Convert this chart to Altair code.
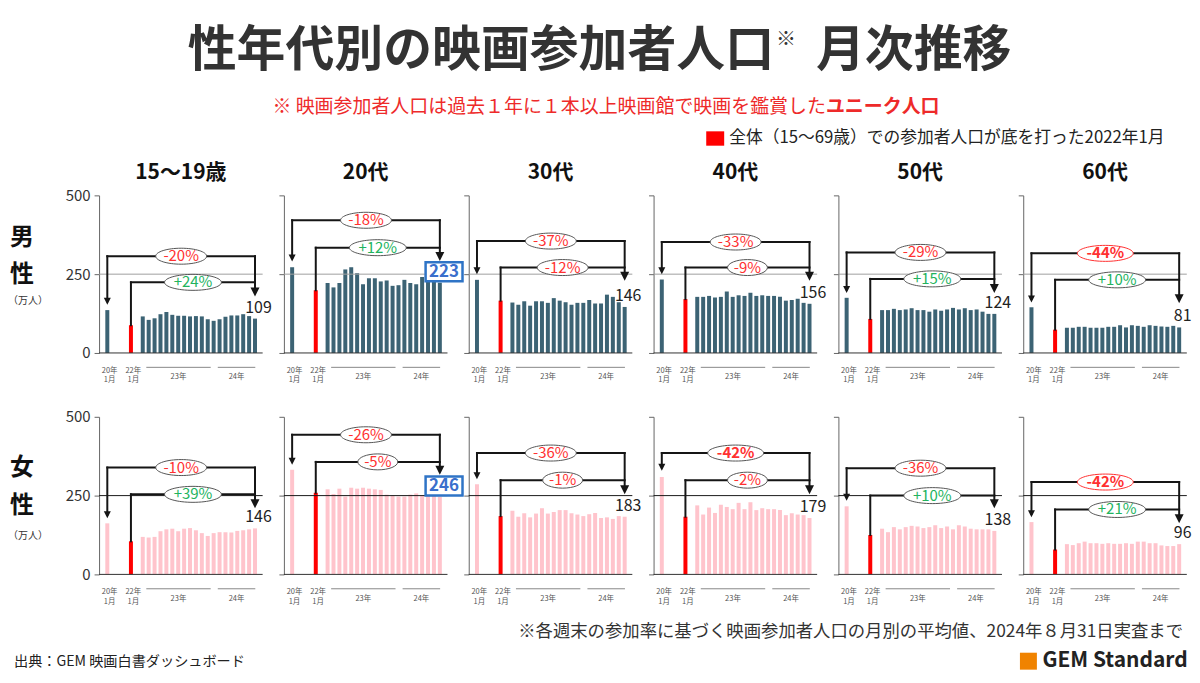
import altair as alt
import pandas as pd

FONT = "Noto Sans CJK JP"

# ---------------- text ----------------
title_main = "性年代別の映画参加者人口"
title_mark = "※"
title_tail = "月次推移"
subtitle_a = "※ 映画参加者人口は過去１年に１本以上映画館で映画を鑑賞した"
subtitle_b = "ユニーク人口"
legend_text = "全体（15～69歳）での参加者人口が底を打った2022年1月"
note_text = "※各週末の参加率に基づく映画参加者人口の月別の平均値、2024年８月31日実査まで"
source_text = "出典：GEM 映画白書ダッシュボード"
logo_text = "GEM Standard"

ages = ["15～19歳", "20代", "30代", "40代", "50代", "60代"]
gender_chars = [["男", "性"], ["女", "性"]]
unit_label = "（万人）"

# ---------------- x slots ----------------
# 20年1月 = slot 0, 22年1月 = slot 4, 2023/01 .. 2024/08 = slots 6 .. 25
slot_2001 = 0
slot_2201 = 4
slots_recent = list(range(6, 26))
slot_tick_labels = [("20年", "1月", 0), ("22年", "1月", 4)]
year_spans = [("23年", 6.6, 17.5), ("24年", 18.7, 25.05)]

# ---------------- values (万人) ----------------
male_2001 = [136, 272, 232, 233, 175, 145]
male_2201 = [88, 199, 166, 171, 108, 74]
male_series = [
    [116, 105, 110, 123, 130, 121, 118, 118, 116, 117, 116, 107, 102, 107, 115, 119, 119, 123, 117, 109],
    [222, 208, 222, 265, 272, 253, 218, 237, 237, 227, 230, 213, 215, 232, 222, 218, 241, 242, 227, 223],
    [160, 153, 164, 150, 164, 164, 159, 174, 166, 161, 153, 159, 159, 168, 157, 157, 185, 178, 161, 146],
    [178, 178, 181, 176, 178, 195, 178, 183, 181, 191, 181, 183, 181, 181, 178, 166, 168, 172, 159, 156],
    [136, 136, 140, 136, 138, 142, 136, 136, 131, 138, 134, 138, 143, 138, 142, 136, 138, 131, 124, 124],
    [80, 80, 83, 83, 80, 80, 80, 83, 83, 88, 81, 88, 86, 83, 88, 86, 84, 83, 86, 81],
]
female_2001 = [162, 332, 286, 309, 216, 166]
female_2201 = [105, 259, 185, 183, 125, 79]
female_series = [
    [119, 117, 119, 137, 143, 145, 137, 145, 147, 140, 131, 122, 131, 134, 134, 133, 138, 140, 143, 146],
    [270, 255, 272, 247, 275, 272, 275, 272, 270, 268, 253, 250, 247, 247, 253, 257, 250, 262, 250, 246],
    [202, 183, 194, 181, 193, 210, 193, 198, 204, 204, 194, 190, 185, 191, 195, 179, 181, 176, 185, 183],
    [219, 190, 212, 195, 221, 214, 207, 227, 207, 229, 204, 210, 207, 207, 204, 188, 194, 190, 188, 179],
    [145, 134, 150, 143, 150, 154, 152, 147, 150, 156, 147, 152, 143, 156, 152, 145, 143, 143, 143, 138],
    [96, 93, 99, 104, 99, 99, 97, 99, 97, 97, 99, 97, 104, 104, 99, 99, 92, 90, 90, 96],
]
male_pct_2001 = ["-20%", "-18%", "-37%", "-33%", "-29%", "-44%"]
male_pct_2201 = ["+24%", "+12%", "-12%", "-9%", "+15%", "+10%"]
female_pct_2001 = ["-10%", "-26%", "-36%", "-42%", "-36%", "-42%"]
female_pct_2201 = ["+39%", "-5%", "-1%", "-2%", "+10%", "+21%"]
male_bold = [False, False, False, False, False, True]
female_bold = [False, False, False, True, False, True]
male_red_ring = [False, False, False, False, False, True]
female_red_ring = [False, False, False, False, False, True]
highlight_age = 1  # 20代: latest value boxed

# bracket levels and arrow tips, read in 万人 units
male_upper = [307, 421, 355, 352, 319, 316]
male_lower = [224, 334, 271, 271, 235, 232]
male_tip_right = [179, 292, 229, 229, 190, 158]
male_tip_left = [153, 290, 250, 250, 190, 160]
female_upper = [339, 443, 385, 385, 337, 293]
female_lower = [254, 357, 299, 299, 250, 206]
female_tip_right = [210, 316, 254, 254, 210, 162]
female_tip_left = [178, 348, 302, 329, 234, 181]

# ---------------- style ----------------
W, H = 164, 158
XDOM = [-0.55, 25.45]
U_PER_PX = 500 / H
SLOT_PER_PX = (XDOM[1] - XDOM[0]) / W
NAVY = "#3c6374"
PINK = "#ffc4cc"
RED = "#ff0000"
NEG = "#ff3030"
POS = "#22b35e"
BLUE = "#2f74c6"
INK = "#151515"
TRI = "M-1,-1L1,-1L0,1Z"
HEAD_R, HEAD_L = 9, 7
ELL_H = 16

xs = alt.Scale(domain=XDOM, nice=False, zero=False)
ys = alt.Scale(domain=[0, 500], nice=False)


def ellipse_path(ratio):
    return f"M-1,0A1,{ratio:.3f} 0 1,0 1,0A1,{ratio:.3f} 0 1,0 -1,0Z"


def rect_path(ratio):
    return f"M-1,-{ratio:.3f}L1,-{ratio:.3f}L1,{ratio:.3f}L-1,{ratio:.3f}Z"


def ell_width(label, bold):
    if bold:
        return 56
    if len(label) == 3:
        return 40
    return 57 if label.startswith("+") else 51


def vtext(t, x, y, size, weight="normal", color="#222", align="center"):
    return alt.Chart(pd.DataFrame({"t": [t]})).mark_text(
        font=FONT, fontSize=size, fontWeight=weight, color=color, align=align, baseline="middle"
    ).encode(text="t:N", x=alt.value(x), y=alt.value(y))


def panel(g, a):
    if g == 0:
        v20, v22, series = male_2001[a], male_2201[a], male_series[a]
        up, lo, tr, tl = male_upper[a], male_lower[a], male_tip_right[a], male_tip_left[a]
        p1, p2, bold, ring = male_pct_2001[a], male_pct_2201[a], male_bold[a], male_red_ring[a]
        bar_color, ref_color = NAVY, "#a0a0a0"
    else:
        v20, v22, series = female_2001[a], female_2201[a], female_series[a]
        up, lo, tr, tl = female_upper[a], female_lower[a], female_tip_right[a], female_tip_left[a]
        p1, p2, bold, ring = female_pct_2001[a], female_pct_2201[a], female_bold[a], female_red_ring[a]
        bar_color, ref_color = PINK, "#1a1a1a"
    last = series[-1]

    yaxis = alt.Axis(values=[0, 250, 500], tickSize=5, labels=(a == 0), labelFontSize=15,
                     labelFont=FONT, labelColor="#333", labelPadding=4, domainColor="#666",
                     tickColor="#666", grid=False, title=None)

    def X(f):
        return alt.X(f, type="quantitative", scale=xs, axis=None)

    def Y(f):
        return alt.Y(f, type="quantitative", scale=ys, axis=yaxis)

    L = []
    bars_df = pd.DataFrame({"slot": [slot_2001] + slots_recent, "v": [v20] + series})
    L.append(alt.Chart(bars_df).mark_bar(size=4, color=bar_color).encode(
        x=X("slot"), y=alt.Y("v", type="quantitative", scale=ys, axis=yaxis, stack=False)))
    L.append(alt.Chart(pd.DataFrame({"slot": [slot_2201], "v": [v22]})).mark_bar(size=4, color=RED).encode(
        x=X("slot"), y=alt.Y("v", type="quantitative", scale=ys, axis=yaxis, stack=False)))
    L.append(alt.Chart(pd.DataFrame({"y": [250]})).mark_rule(color=ref_color, strokeWidth=1).encode(y=Y("y")))
    L.append(alt.Chart(pd.DataFrame({"y": [0]})).mark_rule(color="#333", strokeWidth=1).encode(y=Y("y")))

    ar = HEAD_R / 2 * U_PER_PX
    al = HEAD_L / 2 * U_PER_PX
    segs = pd.DataFrame({
        "x": [slot_2001, slot_2001, 25, slot_2201, slot_2201],
        "x2": [25, slot_2001, 25, slot_2201, 25],
        "y": [up, up, up, v22, lo],
        "y2": [up, tl + al, tr + ar, lo, lo],
    })
    L.append(alt.Chart(segs).mark_rule(color=INK, strokeWidth=2, strokeCap="square").encode(
        x=X("x"), x2="x2", y=Y("y"), y2="y2"))
    L.append(alt.Chart(pd.DataFrame({"x": [25], "y": [tr + ar]})).mark_point(
        shape=TRI, size=HEAD_R ** 2, filled=True, color=INK, opacity=1).encode(x=X("x"), y=Y("y")))
    L.append(alt.Chart(pd.DataFrame({"x": [slot_2001], "y": [tl + al]})).mark_point(
        shape=TRI, size=HEAD_L ** 2, filled=True, color=INK, opacity=1).encode(x=X("x"), y=Y("y")))

    for lab, xc, yc, b, rr in [(p1, (slot_2001 + 25) / 2, up, bold, ring), (p2, (slot_2201 + 25) / 2, lo, False, False)]:
        w = ell_width(lab, b)
        L.append(alt.Chart(pd.DataFrame({"x": [xc], "y": [yc]})).mark_point(
            shape=ellipse_path(ELL_H / w), size=w * w, filled=True, fill="white",
            stroke=(NEG if rr else "#555"), strokeWidth=1, opacity=1).encode(x=X("x"), y=Y("y")))
        L.append(alt.Chart(pd.DataFrame({"x": [xc], "y": [yc], "t": [lab]})).mark_text(
            font=FONT, fontSize=15, fontWeight=("bold" if b else "normal"),
            color=(NEG if lab.startswith("-") else POS), baseline="middle").encode(
            x=X("x"), y=Y("y"), text="t:N"))

    if a == highlight_age:
        bx = 25 + 4.5 * SLOT_PER_PX
        by = last + 11 * U_PER_PX
        bw, bh = 37, 19
        L.append(alt.Chart(pd.DataFrame({"x": [bx], "y": [by]})).mark_point(
            shape=rect_path(bh / bw), size=bw * bw, filled=True, fill="white", stroke=BLUE,
            strokeWidth=2.5, opacity=1).encode(x=X("x"), y=Y("y")))
        L.append(alt.Chart(pd.DataFrame({"x": [bx], "y": [by], "t": [str(last)]})).mark_text(
            font=FONT, fontSize=17, fontWeight="bold", color="#3a6fcc", baseline="middle").encode(
            x=X("x"), y=Y("y"), text="t:N"))
    else:
        L.append(alt.Chart(pd.DataFrame({"x": [25], "y": [last], "t": [str(last)]})).mark_text(
            font=FONT, fontSize=16, color="#222", baseline="middle", dx=3.5, dy=-11).encode(
            x=X("x"), y=Y("y"), text="t:N"))

    # x annotations under the baseline
    ann = pd.DataFrame({
        "x": [s + 0.4 for _, _, s in slot_tick_labels] * 2 + [(x0 + x1) / 2 for _, x0, x1 in year_spans],
        "y": [-18.0 * U_PER_PX] * len(slot_tick_labels) + [-27.5 * U_PER_PX] * len(slot_tick_labels)
             + [-24.4 * U_PER_PX] * len(year_spans),
        "t": [t for t, _, _ in slot_tick_labels] + [m for _, m, _ in slot_tick_labels] + [t for t, _, _ in year_spans],
    })
    L.append(alt.Chart(ann).mark_text(font=FONT, fontSize=7.5, color="#555", baseline="middle").encode(
        x=X("x"), y=Y("y"), text="t:N"))
    yl = pd.DataFrame({"x": [x0 for _, x0, _ in year_spans], "x2": [x1 for _, _, x1 in year_spans],
                       "y": [-14.4 * U_PER_PX] * len(year_spans)})
    L.append(alt.Chart(yl).mark_rule(color="#888", strokeWidth=1).encode(x=X("x"), x2="x2", y=Y("y")))

    ch = alt.layer(*L).properties(width=W, height=H)
    if g == 0:
        ch = ch.properties(title=alt.TitleParams(ages[a], font=FONT, fontSize=21, fontWeight="bold",
                                                 color="#111", offset=(5 if a == 0 else 12),
                                                 anchor="middle"))
    return ch


def label_cell(g):
    L = []
    if g == 0:
        L.append(alt.Chart(pd.DataFrame({"a": [0]})).mark_rule(opacity=0, strokeWidth=1).encode(
            x=alt.value(0), x2=alt.value(1), y=alt.value(-187), y2=alt.value(-187)))
        L.append(vtext(gender_chars[0][0], 14, 43, 24, "bold", "#111"))
        L.append(vtext(gender_chars[0][1], 14, 80, 24, "bold", "#111"))
        L.append(vtext(unit_label, 20, 106, 10, "normal", "#333"))
        # header
        L.append(vtext(title_main, 768, -145, 49, "bold", "#333", "right"))
        L.append(vtext(title_mark, 770, -156, 20, "bold", "#333", "left"))
        L.append(vtext(title_tail, 810, -145, 49, "bold", "#333", "left"))
        L.append(vtext(subtitle_a, 820, -89, 19, "normal", "#ee2a2a", "right"))
        L.append(vtext(subtitle_b, 820, -89, 19, "bold", "#ee2a2a", "left"))
        L.append(alt.Chart(pd.DataFrame({"a": [0]})).mark_point(
            shape=rect_path(0.8), size=18 * 18, filled=True, color=RED, opacity=1).encode(
            x=alt.value(709), y=alt.value(-57)))
        L.append(vtext(legend_text, 723, -57, 16.8, "normal", "#222", "left"))
    else:
        L.append(vtext(gender_chars[1][0], 14, 51, 24, "bold", "#111"))
        L.append(vtext(gender_chars[1][1], 14, 89, 24, "bold", "#111"))
        L.append(vtext(unit_label, 20, 120, 10, "normal", "#333"))
        # footer
        L.append(vtext(note_text, 1178, 216, 17.4, "normal", "#333", "right"))
        L.append(vtext(source_text, 6, 246, 14.2, "normal", "#222", "left"))
        L.append(alt.Chart(pd.DataFrame({"a": [0]})).mark_point(
            shape="square", size=17 * 17, filled=True, color="#f08300", opacity=1).encode(
            x=alt.value(1023), y=alt.value(245)))
        L.append(vtext(logo_text, 1037, 245, 21, "bold", "#222", "left"))
    return alt.layer(*L).properties(width=70, height=H)


cells = []
for g in range(2):
    cells.append(label_cell(g))
    for a in range(6):
        cells.append(panel(g, a))

chart = alt.concat(*cells, columns=7, spacing={"row": 64, "column": 21.3}).properties(
    bounds="flush", align="each", padding=0
).configure(font=FONT).configure_view(strokeWidth=0)

chart.save("out.html", embed_options={"renderer": "svg", "actions": False})
